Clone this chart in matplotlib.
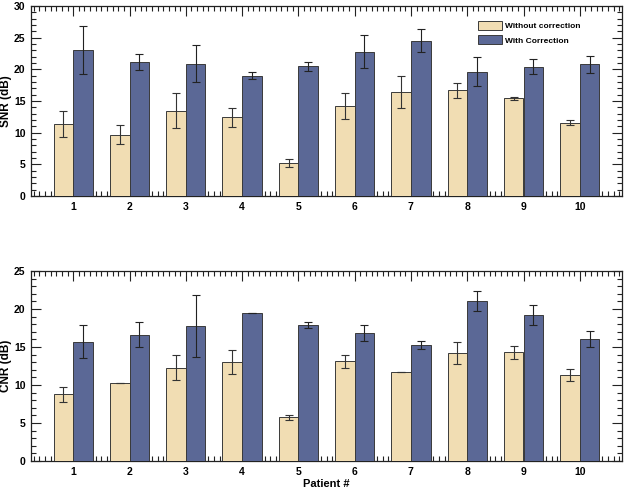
import matplotlib
matplotlib.use("Agg")
import matplotlib.pyplot as plt
import numpy as np
from matplotlib.ticker import MultipleLocator

patients = [1, 2, 3, 4, 5, 6, 7, 8, 9, 10]
snr_without = [11.3, 9.7, 13.5, 12.4, 5.2, 14.2, 16.4, 16.7, 15.4, 11.6]
snr_without_err = [2.05, 1.55, 2.7, 1.55, 0.6, 2.0, 2.5, 1.2, 0.25, 0.35]
snr_with = [23.05, 21.2, 20.9, 19.0, 20.5, 22.8, 24.5, 19.6, 20.4, 20.8]
snr_with_err = [3.85, 1.25, 2.9, 0.6, 0.7, 2.6, 1.8, 2.3, 1.2, 1.3]
cnr_without = [8.8, 10.3, 12.3, 13.0, 5.75, 13.1, 11.75, 14.25, 14.3, 11.3]
cnr_without_err = [1.0, 0.0, 1.65, 1.55, 0.3, 0.9, 0.0, 1.45, 0.9, 0.8]
cnr_with = [15.7, 16.6, 17.8, 19.5, 17.9, 16.8, 15.3, 21.05, 19.2, 16.1]
cnr_with_err = [2.2, 1.65, 4.1, 0.03, 0.4, 1.05, 0.55, 1.35, 1.3, 1.05]

c_without = "#F1DDB3"
c_with = "#5B6896"
edge = "#3a3a3a"

plt.rcParams['font.family'] = ['Liberation Sans', 'DejaVu Sans']
plt.rcParams['font.weight'] = 'bold'

fig = plt.figure(figsize=(6.25, 4.92), dpi=100)
ax1 = fig.add_axes([0.0496, 0.6016, 0.9456, 0.3862])
ax2 = fig.add_axes([0.0496, 0.063, 0.9456, 0.386])

x = np.array(patients, dtype=float)
w = 0.35

def draw(ax, wo, woe, wi, wie, ymax, ylabel):
    ax.bar(x - w/2, wo, w, color=c_without, edgecolor=edge, linewidth=0.7, zorder=3,
           label="Without correction")
    ax.bar(x + w/2, wi, w, color=c_with, edgecolor=edge, linewidth=0.7, zorder=3,
           label="With Correction")
    ax.errorbar(x - w/2, wo, yerr=woe, fmt='none', ecolor='#333333', elinewidth=0.8,
                capsize=2.7, capthick=0.8, zorder=4)
    ax.errorbar(x + w/2, wi, yerr=wie, fmt='none', ecolor='#222222', elinewidth=0.8,
                capsize=2.7, capthick=0.8, zorder=4)
    ax.set_xlim(0.25, 10.75)
    ax.set_ylim(0, ymax)
    ax.set_xticks(patients)
    ax.xaxis.set_minor_locator(MultipleLocator(0.1))
    ax.yaxis.set_major_locator(MultipleLocator(5))
    ax.yaxis.set_minor_locator(MultipleLocator(1))
    ax.tick_params(which='both', direction='in', top=True, right=True, width=0.8,
                   labelsize=7.5, color='#222222')
    ax.tick_params(which='major', length=7)
    ax.tick_params(which='minor', length=3.6)
    ax.tick_params(axis='x', pad=4.5)
    ax.tick_params(axis='y', pad=4)
    for lab in ax.get_xticklabels() + ax.get_yticklabels():
        lab.set_fontweight('bold')
    ax.set_ylabel(ylabel, fontsize=8.5, fontweight='bold')
    ax.yaxis.set_label_coords(-0.032, 0.5)
    for s in ax.spines.values():
        s.set_linewidth(0.9)
        s.set_color('#222222')

draw(ax1, snr_without, snr_without_err, snr_with, snr_with_err, 30, "SNR (dB)")
draw(ax2, cnr_without, cnr_without_err, cnr_with, cnr_with_err, 25, "CNR (dB)")
ax2.set_xlabel("Patient #", fontsize=8, fontweight='bold')
ax2.xaxis.set_label_coords(0.5, -0.095)

leg = ax1.legend(loc='upper right', bbox_to_anchor=(0.929, 0.921), frameon=False,
                 borderpad=0, borderaxespad=0,
                 handlelength=2.9, handleheight=1.3, handletextpad=0.25,
                 labelspacing=0.6, prop={'weight': 'bold', 'size': 6})

fig.savefig("out.png", dpi=100)
